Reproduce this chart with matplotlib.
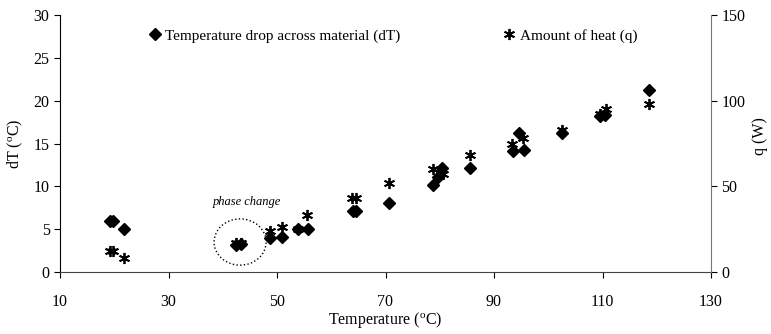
import matplotlib
matplotlib.use("Agg")
import matplotlib.pyplot as plt
from matplotlib.patches import Ellipse

plt.rcParams['font.family'] = ['Liberation Serif', 'DejaVu Serif']
plt.rcParams['mathtext.fontset'] = 'custom'
plt.rcParams['mathtext.rm'] = 'Liberation Serif'

# temperature drop across material (left axis)
dt_temp = [19.3, 19.8, 21.8, 42.5, 43.3, 48.8, 50.9, 53.9, 55.8, 64.0, 64.6,
           70.7, 78.8, 79.7, 80.4, 85.6, 93.5, 94.6, 95.5, 102.5, 109.5, 110.5, 118.6]
dt_vals = [6.0, 6.0, 5.0, 3.2, 3.3, 4.0, 4.1, 5.0, 5.0, 7.1, 7.1,
           8.0, 10.1, 11.1, 12.1, 12.1, 14.1, 16.2, 14.2, 16.2, 18.2, 18.3, 21.3]

# amount of heat (right axis)
q_temp = [19.3, 19.8, 21.8, 42.5, 43.3, 48.8, 50.9, 53.9, 55.6, 63.8, 64.6,
          70.7, 78.8, 80.2, 80.6, 85.6, 93.4, 95.4, 102.5, 109.5, 110.6, 118.6]
q_vals = [12, 12, 8, 17, 17, 24, 26, 25, 33, 43, 43,
          52, 60, 60, 57, 68, 75, 78, 83, 92, 95, 98]

x_ticks = [10, 30, 50, 70, 90, 110, 130]

fig = plt.figure(figsize=(7.71, 3.34), dpi=100)
fig.subplots_adjust(left=60/771, right=711/771, bottom=1-272/334, top=1-15/334)
ax = fig.add_subplot(111)
ax2 = ax.twinx()

h1, = ax.plot(dt_temp, dt_vals, linestyle='none', marker='D', color='black',
              markersize=6, label='Temperature drop across material (dT)')
h2, = ax2.plot(q_temp, q_vals, linestyle='none', marker=(6, 2, 0), color='black',
               markersize=8, markeredgewidth=1.3, label='Amount of heat (q)')

ax.set_xlim(10, 130)
ax.set_ylim(0, 30)
ax2.set_ylim(0, 150)
ax.set_xticks(x_ticks)
ax.set_yticks(range(0, 31, 5))
ax2.set_yticks([0, 50, 100, 150])

for a in (ax, ax2):
    a.spines['top'].set_visible(False)
    a.tick_params(labelsize=11.5, length=4, width=0.8)
ax.tick_params(axis='x', pad=12)
ax.spines['right'].set_visible(False)
ax2.spines['left'].set_visible(False)
ax2.spines['bottom'].set_visible(False)
ax2.spines['right'].set_color('#777777')
ax.spines['bottom'].set_color('#444444')

ax.set_xlabel('Temperature ($\\mathregular{^o}$C)', fontsize=11.5, labelpad=0)
ax.set_ylabel('dT ($\\mathregular{^o}$C)', fontsize=11.5, labelpad=6)
ax2.set_ylabel('q (W)', fontsize=11.5)
ax2.yaxis.set_label_coords(1.063, 0.53)

# phase change marker
ax.add_patch(Ellipse((43.2, 3.5), 9.6, 5.4, fill=False, linestyle=':',
                     linewidth=1.0, edgecolor='black'))
ax.text(44.5, 7.8, 'phase change', fontsize=9, style='italic', ha='center')

ax.legend(handles=[h1, h2], loc='upper left', bbox_to_anchor=(0.11, 1.0),
          ncol=2, frameon=False, fontsize=11, columnspacing=6.5,
          handletextpad=0.1, handlelength=1.2)

plt.savefig('out.png', dpi=100)
plt.close()
